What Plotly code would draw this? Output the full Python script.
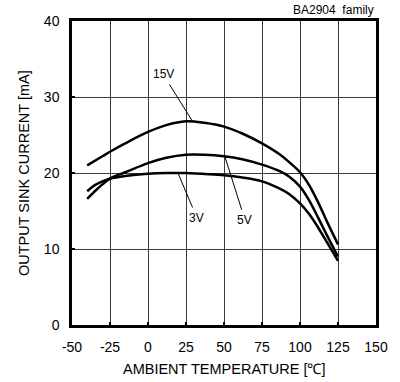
import plotly.graph_objects as go

# Output sink current vs ambient temperature (BA2904 family)
temp_15v = [-40, -30, -25, -15, 0, 12, 25, 37, 50, 62, 75, 87, 93, 100, 106, 112, 118, 125]
sink_15v = [21.0, 22.2, 22.8, 23.9, 25.4, 26.3, 26.8, 26.6, 26.1, 25.2, 23.9, 22.4, 21.4, 20.1, 18.4, 16.1, 13.5, 10.6]

temp_5v = [-40, -35, -30, -25, -15, 0, 12, 25, 37, 50, 62, 75, 87, 93, 100, 106, 112, 118, 125]
sink_5v = [16.6, 17.6, 18.5, 19.3, 20.1, 21.3, 22.0, 22.4, 22.4, 22.2, 21.8, 21.1, 20.2, 19.5, 18.2, 16.4, 14.1, 11.7, 9.0]

temp_3v = [-40, -35, -30, -25, -15, 0, 12, 25, 40, 50, 62, 75, 87, 93, 100, 106, 112, 118, 125]
sink_3v = [17.6, 18.4, 18.9, 19.25, 19.6, 19.9, 20.0, 20.0, 19.85, 19.7, 19.4, 18.9, 17.9, 17.2, 16.0, 14.6, 12.8, 10.8, 8.45]

x_ticks = [-50, -25, 0, 25, 50, 75, 100, 125, 150]
y_ticks = [0, 10, 20, 30, 40]

# Curve labels: text position and the point on the curve the leader line touches
label_text = ["15V", "3V", "5V"]
label_pos = [(9.9, 33.0), (32.2, 14.1), (63.8, 13.8)]
label_tip = [(29.6, 26.7), (19.7, 20.0), (50.7, 22.1)]

FONT = "Liberation Sans, Arial, sans-serif"

fig = go.Figure()
for xs, ys in [(temp_15v, sink_15v), (temp_5v, sink_5v), (temp_3v, sink_3v)]:
    fig.add_trace(go.Scatter(
        x=xs, y=ys, mode="lines",
        line=dict(color="black", width=2.5, shape="spline", smoothing=1.0),
        showlegend=False, hoverinfo="skip",
    ))

annotations = []
for txt, (tx, ty), (px, py) in zip(label_text, label_pos, label_tip):
    annotations.append(dict(
        x=px, y=py, ax=tx, ay=ty, xref="x", yref="y", axref="x", ayref="y",
        text=txt, showarrow=True, arrowhead=0, arrowwidth=1, arrowcolor="black",
        font=dict(family=FONT, size=12, color="black"), standoff=0, startstandoff=2,
    ))

annotations += [
    dict(text="BA2904  family", x=1.0, y=1.0, xref="paper", yref="paper",
         xanchor="right", yanchor="bottom", yshift=2, showarrow=False,
         font=dict(family=FONT, size=12, color="black")),
    dict(text="AMBIENT TEMPERATURE [℃]", x=0.5, y=0, xref="paper", yref="paper",
         xanchor="center", yanchor="top", yshift=-34, showarrow=False,
         font=dict(family=FONT, size=14.5, color="black")),
    dict(text="OUTPUT SINK CURRENT [mA]", x=0, y=0.5, xref="paper", yref="paper",
         xanchor="center", yanchor="middle", xshift=-48, textangle=-90, showarrow=False,
         font=dict(family=FONT, size=14.5, color="black")),
]

axis_common = dict(
    showgrid=True, gridcolor="#3a3a3a", gridwidth=1,
    showline=True, linecolor="black", linewidth=2.5, mirror=True,
    ticks="inside", ticklen=3, tickcolor="black", tickwidth=1.5,
    zeroline=False, tickfont=dict(family=FONT, size=14, color="black"),
)

fig.update_xaxes(range=[-50, 150], tickvals=x_ticks, ticktext=[str(v) for v in x_ticks],
                 ticklabelstandoff=7, **axis_common)
fig.update_yaxes(range=[0, 40], tickvals=y_ticks, ticktext=[str(v) for v in y_ticks],
                 ticklabelstandoff=7, **axis_common)

fig.update_layout(
    width=400, height=382,
    margin=dict(l=72, r=24, t=21, b=57),
    paper_bgcolor="white", plot_bgcolor="white",
    annotations=annotations,
)

fig.write_html("out.html")
